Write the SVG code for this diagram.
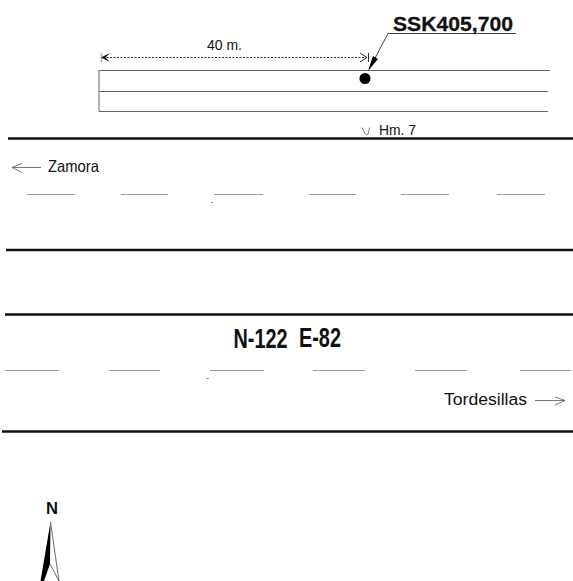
<svg xmlns="http://www.w3.org/2000/svg" width="573" height="581" viewBox="0 0 573 581">
<style>
text{font-family:"Liberation Sans",Arial,sans-serif;fill:#111}
.road{stroke:#111;stroke-width:2.5;fill:none}
.thin{stroke:#666;stroke-width:1;fill:none}
.dash{stroke:#999;stroke-width:1.2;fill:none}
.arr{stroke:#555;stroke-width:.8;fill:none}
</style>
<rect width="573" height="581" fill="#fff"/>
<g id="connectors">
<path class="road" d="M8 138.500H573M6 250H573M5 314.500H573M2 431.500H573"/>
<path class="thin" d="M99 70.500H550M99 91.500H548M99 111.500H548M99 70V111"/>
<path class="dash" d="M27 194.500H75M121 194.500H168M214 194.500H263M309 194.500H356M401 194.500H449M497 194.500H545M5 370.500H59M109 370.500H160M210 370.500H264M313 370.500H365M415 370.500H467M520 370.500H571"/>
<path class="dash" d="M211 202.500H213M206 378.500H209"/>
<path d="M103 57.500H367" stroke="#333" stroke-width="1" stroke-dasharray="2 1.500" fill="none"/>
<path d="M101.500 53V62" stroke="#aaa" stroke-width="1.500"/>
<path d="M110 53L101 57.500L110 62L105.500 57.500Z" fill="#111"/>
<path d="M360 53L367 57.500L360 62M368.500 53V62" stroke="#333" fill="none"/>
<path d="M516 33.500H388L374 60" stroke="#444" fill="none"/>
<path d="M368 71L373 56L378 59Z" fill="#000"/>
<path class="arr" d="M12 167.500H41M22 163.500L12 167.500L22 172.500M535 400.500H565M555 397L565 400.500L555 405"/>
<path d="M362 127.500Q365 135 367 135Q368.500 135 369.500 127.500" stroke="#555" stroke-width=".8" fill="none"/>
</g>
<g id="marker"><circle cx="365" cy="78.500" r="5.500" fill="#000"/></g>
<g id="labels">
<text x="207" y="50" font-size="14.500" textLength="35" lengthAdjust="spacingAndGlyphs">40 m.</text>
<text x="393" y="31" font-size="21" font-weight="700" stroke="#111" stroke-width=".3" textLength="120" lengthAdjust="spacingAndGlyphs">SSK405,700</text>
<text x="379" y="135" font-size="14.500" textLength="37" lengthAdjust="spacingAndGlyphs">Hm. 7</text>
<text x="48" y="172" font-size="16.500" textLength="51" lengthAdjust="spacingAndGlyphs">Zamora</text>
<text transform="translate(233.500 347.500) scale(.71 1)" font-size="28" font-weight="700">N-122</text>
<text transform="translate(299 346.500) scale(.71 1)" font-size="28" font-weight="700">E-82</text>
<text x="444" y="405" font-size="16" textLength="83" lengthAdjust="spacingAndGlyphs">Tordesillas</text>
</g>
<g id="north">
<text x="46" y="514" font-size="17" font-weight="700" textLength="12" lengthAdjust="spacingAndGlyphs">N</text>
<path d="M50.500 522L40.500 581H44L50 564Z" fill="#000"/>
<path d="M50.500 522L59 581L50 564" stroke="#444" stroke-width=".8" fill="none"/>
</g>
</svg>
